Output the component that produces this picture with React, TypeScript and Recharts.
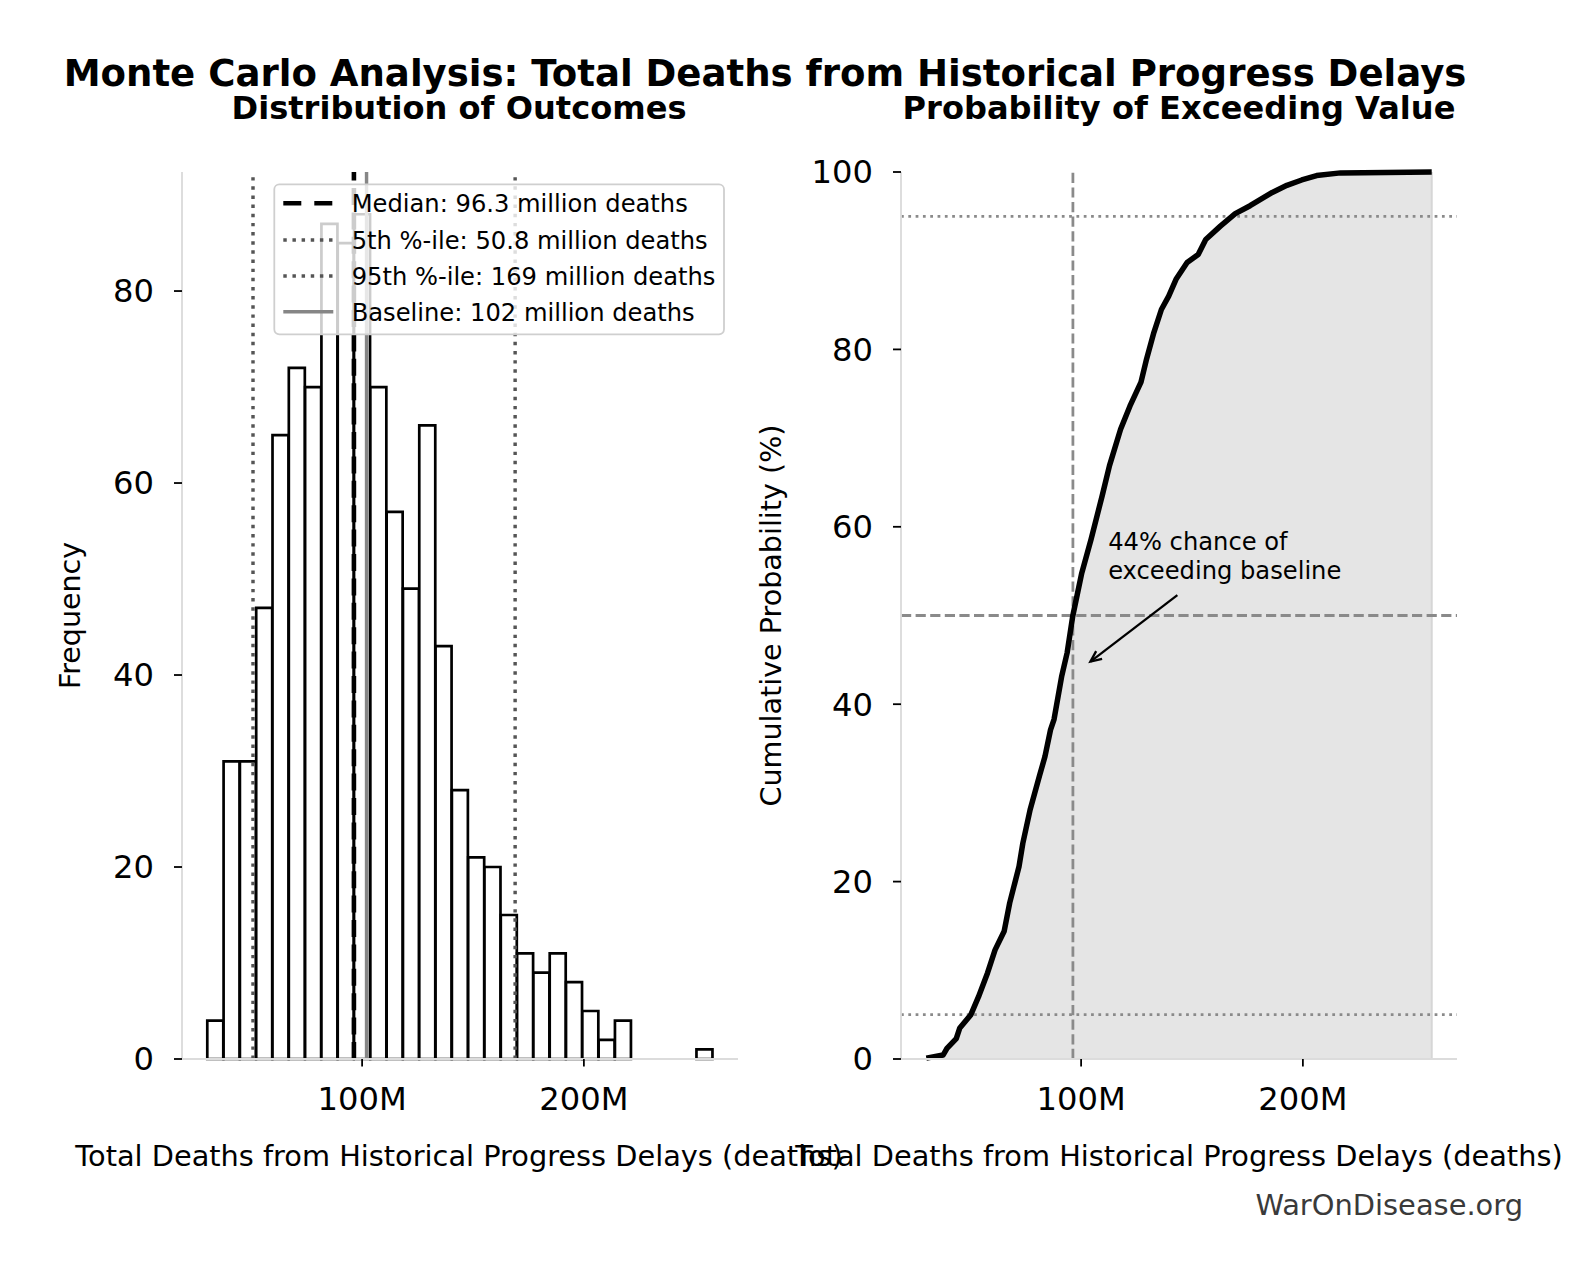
import React from 'react';
import {
  ComposedChart,
  Bar,
  Area,
  Line,
  XAxis,
  YAxis,
  ReferenceLine,
  ReferenceDot,
} from 'recharts';

const FONT = '"DejaVu Sans", "Noto Sans", sans-serif';

// Histogram bins (million deaths): left edges plus final right edge
const binEdges = [
  30.18, 37.53, 44.89, 52.24, 59.59, 66.95, 74.3, 81.65, 89.0, 96.36, 103.71,
  111.06, 118.42, 125.77, 133.12, 140.48, 147.83, 155.18, 162.53, 169.89,
  177.24, 184.59, 191.95, 199.3, 206.65, 214.01, 221.36, 228.71, 236.06,
  243.42, 250.77, 258.12,
];
// Simulation counts per bin (1000 runs)
const binCounts = [
  4, 31, 31, 47, 65, 72, 70, 87, 85, 88, 70, 57, 49, 66, 43, 28, 21, 20, 15,
  11, 9, 11, 8, 5, 2, 4, 0, 0, 0, 0, 1,
];

// Empirical cumulative distribution: deaths (millions) vs cumulative %
const cdfValues = [
  30.2, 37.8, 39.5, 43.7, 45.3, 50.3, 53.7, 57.8, 61.2, 65.3, 67.8, 72.0, 73.7,
  77.0, 81.2, 83.7, 86.2, 87.8, 91.2, 93.7, 96.2, 100.3, 104.5, 109.5, 112.8,
  117.8, 122.0, 127.0, 129.5, 132.8, 136.2, 139.5, 142.8, 147.8, 152.8, 156.2,
  162.8, 169.5, 176.2, 186.2, 192.8, 199.5, 206.2, 217.0, 258.1,
];
const cdfPercents = [
  0.1, 0.45, 1.2, 2.3, 3.5, 5.0, 7.0, 9.7, 12.3, 14.4, 17.6, 21.7, 24.3, 28.1,
  31.9, 34.1, 37.1, 38.3, 43.1, 45.8, 49.9, 54.8, 58.6, 63.5, 66.9, 71.0, 73.6,
  76.3, 78.9, 81.9, 84.5, 86.0, 87.9, 89.8, 90.7, 92.4, 93.9, 95.3, 96.2, 97.7,
  98.5, 99.1, 99.6, 99.9, 100,
];

// Summary statistics (million deaths)
const medianValue = 96.3;
const p5Value = 50.8;
const p95Value = 169;
const baselineValue = 102;
const exceedChance = 44;

// Annotation anchor points: text position and arrow (tail -> head)
const noteAt = { x: 112.2, y: 57.4 };
const arrowTail = { x: 143.4, y: 52.3 };
const arrowHead = { x: 104.2, y: 44.8 };

const xDomain = [18.78, 269.5];
const xTicks = [100, 200];
const freqDomain = [0, 92.4];
const freqTicks = [0, 20, 40, 60, 80];
const probDomain = [0, 100];
const probTicks = [0, 20, 40, 60, 80, 100];
const probGuides = [5, 95];

const histData = binCounts.map((c, i) => ({
  mid: (binEdges[i] + binEdges[i + 1]) / 2,
  count: c > 0 ? c : null,
}));
const cdfData = cdfValues.map((v, i) => ({ v, p: cdfPercents[i] }));

const fmtM = (v: number) => `${v}M`;

const tickStyle = { fontSize: 32.2, fill: '#000', fontFamily: FONT };
const spine = { stroke: '#dcdcdc', strokeWidth: 1.9 };
const tickMark = { stroke: '#000', strokeWidth: 1.8 };

const ArrowShape = (props: any) => {
  const { x1, y1, x2, y2 } = props;
  const ang = Math.atan2(y2 - y1, x2 - x1);
  const len = 12;
  const spread = 0.42;
  const ax = x2 - len * Math.cos(ang - spread);
  const ay = y2 - len * Math.sin(ang - spread);
  const bx = x2 - len * Math.cos(ang + spread);
  const by = y2 - len * Math.sin(ang + spread);
  return (
    <g>
      <line x1={x1} y1={y1} x2={x2} y2={y2} stroke="#000" strokeWidth={2.3} />
      <polyline
        points={`${ax},${ay} ${x2},${y2} ${bx},${by}`}
        fill="none"
        stroke="#000"
        strokeWidth={2.3}
      />
    </g>
  );
};

const NoteText = (props: any) => (
  <text x={props.cx} y={props.cy} fontSize={24.2} fontFamily={FONT} fill="#000">
    <tspan x={props.cx}>{`${exceedChance}% chance of`}</tspan>
    <tspan x={props.cx} dy={28.7}>
      exceeding baseline
    </tspan>
  </text>
);

const legendRows = [
  { label: `Median: ${medianValue} million deaths`, stroke: '#000', width: 4.6, dash: '18 13' },
  { label: `5th %-ile: ${p5Value} million deaths`, stroke: '#555', width: 3.45, dash: '3.45 5.7' },
  { label: `95th %-ile: ${p95Value} million deaths`, stroke: '#555', width: 3.45, dash: '3.45 5.7' },
  { label: `Baseline: ${baselineValue} million deaths`, stroke: '#868686', width: 3.45, dash: undefined },
];

function HistogramPanel() {
  return (
    <ComposedChart
      width={760}
      height={1280}
      data={histData}
      margin={{ top: 172, right: 22, bottom: 161, left: 0 }}
      barCategoryGap={0}
      barGap={0}
    >
      <XAxis
        type="number"
        dataKey="mid"
        domain={xDomain}
        allowDataOverflow
        ticks={xTicks}
        tickFormatter={fmtM}
        height={60}
        tick={tickStyle}
        axisLine={spine}
        tickLine={tickMark}
        tickSize={7.5}
        tickMargin={21}
      />
      <YAxis
        type="number"
        domain={freqDomain}
        ticks={freqTicks}
        width={182}
        tick={tickStyle}
        axisLine={spine}
        tickLine={tickMark}
        tickSize={8}
        tickMargin={20}
      />
      <Bar
        dataKey="count"
        fill="#ffffff"
        stroke="#000"
        strokeWidth={2.7}
        isAnimationActive={false}
      />
      <ReferenceLine x={medianValue} stroke="#000" strokeWidth={4.6} strokeDasharray="17 7.4" />
      <ReferenceLine x={p5Value} stroke="#555" strokeWidth={3.45} strokeDasharray="3.45 5.7" />
      <ReferenceLine x={p95Value} stroke="#555" strokeWidth={3.45} strokeDasharray="3.45 5.7" />
      <ReferenceLine x={baselineValue} stroke="#868686" strokeWidth={3.45} />
    </ComposedChart>
  );
}

function CdfPanel() {
  const last = cdfValues[cdfValues.length - 1];
  return (
    <ComposedChart
      width={821}
      height={1280}
      data={cdfData}
      margin={{ top: 172, right: 124, bottom: 161, left: 0 }}
    >
      <XAxis
        type="number"
        dataKey="v"
        domain={xDomain}
        allowDataOverflow
        ticks={xTicks}
        tickFormatter={fmtM}
        height={60}
        tick={tickStyle}
        axisLine={spine}
        tickLine={tickMark}
        tickSize={7.5}
        tickMargin={21}
      />
      <YAxis
        type="number"
        domain={probDomain}
        ticks={probTicks}
        width={141}
        tick={tickStyle}
        axisLine={spine}
        tickLine={tickMark}
        tickSize={8}
        tickMargin={20}
      />
      <Area
        type="linear"
        dataKey="p"
        fill="#e5e5e5"
        fillOpacity={1}
        stroke="none"
        isAnimationActive={false}
      />
      <ReferenceLine
        segment={[
          { x: last, y: 0 },
          { x: last, y: 100 },
        ]}
        stroke="#d6d6d6"
        strokeWidth={2}
      />
      <ReferenceLine y={50} stroke="#8a8a8a" strokeWidth={2.76} strokeDasharray="10.2 4.4" />
      {probGuides.map((g) => (
        <ReferenceLine key={g} y={g} stroke="#8a8a8a" strokeWidth={2.76} strokeDasharray="2.76 4.55" />
      ))}
      <ReferenceLine x={medianValue} stroke="#8a8a8a" strokeWidth={2.76} strokeDasharray="10.2 4.4" />
      <Line
        type="linear"
        dataKey="p"
        stroke="#000"
        strokeWidth={5.5}
        dot={false}
        strokeLinejoin="round"
        isAnimationActive={false}
      />
      <ReferenceLine segment={[arrowTail, arrowHead]} shape={ArrowShape} />
      <ReferenceDot x={noteAt.x} y={noteAt.y} r={1} shape={NoteText} />
    </ComposedChart>
  );
}

function Overlay() {
  const legendX = 274.3;
  const legendY = 184.3;
  const rowCenters = [203.3, 240, 276, 311.7];
  return (
    <svg
      width={1581}
      height={1280}
      style={{ position: 'absolute', left: 0, top: 0, pointerEvents: 'none' }}
      fontFamily={FONT}
    >
      <text x={765} y={86} textAnchor="middle" fontSize={37.1} fontWeight="bold" fill="#000">
        Monte Carlo Analysis: Total Deaths from Historical Progress Delays
      </text>
      <text x={459} y={119} textAnchor="middle" fontSize={32.1} fontWeight="bold" fill="#000">
        Distribution of Outcomes
      </text>
      <text x={1179} y={119} textAnchor="middle" fontSize={32.1} fontWeight="bold" fill="#000">
        Probability of Exceeding Value
      </text>
      <text x={459} y={1166} textAnchor="middle" fontSize={28.8} fill="#000">
        Total Deaths from Historical Progress Delays (deaths)
      </text>
      <text x={1179} y={1166} textAnchor="middle" fontSize={28.8} fill="#000">
        Total Deaths from Historical Progress Delays (deaths)
      </text>
      <text transform="translate(80,615.5) rotate(-90)" textAnchor="middle" fontSize={28.5} fill="#000">
        Frequency
      </text>
      <text transform="translate(781,615.5) rotate(-90)" textAnchor="middle" fontSize={28.6} fill="#000">
        Cumulative Probability (%)
      </text>
      <text x={1523} y={1215} textAnchor="end" fontSize={28.9} fill="#3a3a3a">
        WarOnDisease.org
      </text>

      <rect
        x={legendX}
        y={legendY}
        width={449.7}
        height={150}
        rx={5}
        fill="#fff"
        fillOpacity={0.8}
        stroke="#cfcfcf"
        strokeWidth={1.8}
      />
      {legendRows.map((r, i) => (
        <g key={r.label}>
          <line
            x1={283.3}
            x2={333.3}
            y1={rowCenters[i]}
            y2={rowCenters[i]}
            stroke={r.stroke}
            strokeWidth={r.width}
            strokeDasharray={r.dash}
          />
          <text x={351.7} y={rowCenters[i] + 8.8} fontSize={24.2} fill="#000">
            {r.label}
          </text>
        </g>
      ))}
    </svg>
  );
}

export default function App() {
  return (
    <div
      style={{
        position: 'absolute',
        left: 0,
        top: 0,
        width: 1581,
        height: 1280,
        background: '#fff',
        overflow: 'hidden',
      }}
    >
      <div style={{ position: 'absolute', left: 0, top: 0 }}>
        <HistogramPanel />
      </div>
      <div style={{ position: 'absolute', left: 760, top: 0 }}>
        <CdfPanel />
      </div>
      <Overlay />
    </div>
  );
}
